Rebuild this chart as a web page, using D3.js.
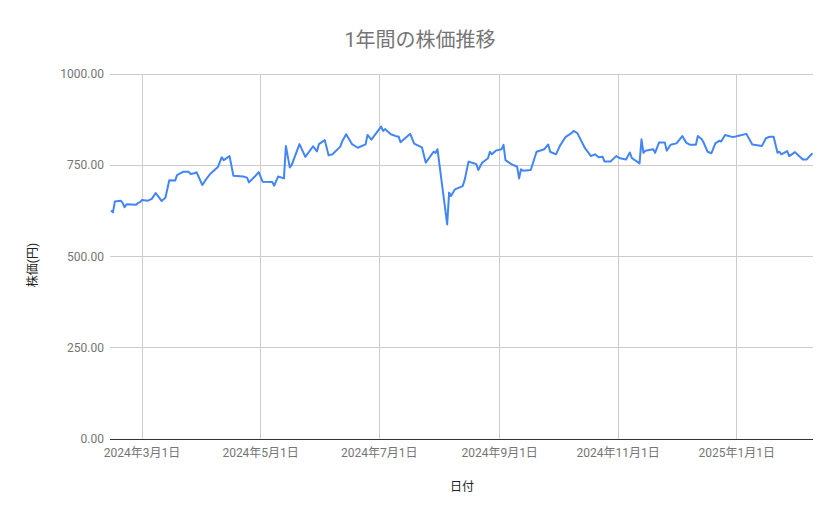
<!DOCTYPE html>
<html>
<head>
<meta charset="utf-8">
<script src="https://cdn.jsdelivr.net/npm/d3@7"></script>
<style>
  html, body { margin: 0; padding: 0; background: #fff; }
  svg text { font-family: Roboto, "Noto Sans CJK JP", sans-serif; }
</style>
</head>
<body>
<div id="chart"></div>
<script>
// 1年間の株価推移 (line chart, Google Charts look)

const dates = [
  "2024-02-14","2024-02-15","2024-02-16","2024-02-19","2024-02-20","2024-02-21","2024-02-22","2024-02-27","2024-02-28","2024-02-29",
  "2024-03-01","2024-03-04","2024-03-06","2024-03-08","2024-03-10","2024-03-11","2024-03-13","2024-03-15","2024-03-18","2024-03-19",
  "2024-03-22","2024-03-25","2024-03-26","2024-03-28","2024-03-29","2024-04-01","2024-04-03","2024-04-05","2024-04-09","2024-04-11",
  "2024-04-12","2024-04-15","2024-04-17","2024-04-22","2024-04-24","2024-04-25","2024-04-28","2024-04-30","2024-05-02","2024-05-07",
  "2024-05-08","2024-05-10","2024-05-13","2024-05-14","2024-05-16","2024-05-17","2024-05-21","2024-05-24","2024-05-28","2024-05-30",
  "2024-05-31","2024-06-03","2024-06-05","2024-06-07","2024-06-11","2024-06-12","2024-06-14","2024-06-17","2024-06-20","2024-06-24",
  "2024-06-25","2024-06-27","2024-07-02","2024-07-03","2024-07-04","2024-07-07","2024-07-10","2024-07-11","2024-07-12","2024-07-17",
  "2024-07-19","2024-07-23","2024-07-25","2024-07-29","2024-07-30","2024-07-31","2024-08-05","2024-08-06","2024-08-07","2024-08-09",
  "2024-08-13","2024-08-14","2024-08-16","2024-08-19","2024-08-20","2024-08-21","2024-08-23","2024-08-26","2024-08-27","2024-08-28",
  "2024-08-30","2024-09-02","2024-09-03","2024-09-04","2024-09-07","2024-09-10","2024-09-11","2024-09-12","2024-09-13","2024-09-17",
  "2024-09-20","2024-09-24","2024-09-26","2024-09-27","2024-09-30","2024-10-02","2024-10-05","2024-10-08","2024-10-09","2024-10-11",
  "2024-10-15","2024-10-18","2024-10-20","2024-10-22","2024-10-24","2024-10-25","2024-10-28","2024-10-31","2024-11-02","2024-11-05",
  "2024-11-07","2024-11-08","2024-11-12","2024-11-13","2024-11-14","2024-11-15","2024-11-19","2024-11-20","2024-11-22","2024-11-25",
  "2024-11-26","2024-11-28","2024-12-01","2024-12-04","2024-12-06","2024-12-08","2024-12-11","2024-12-12","2024-12-14","2024-12-15",
  "2024-12-17","2024-12-19","2024-12-21","2024-12-23","2024-12-24","2024-12-26","2024-12-30","2025-01-02","2025-01-06","2025-01-09",
  "2025-01-14","2025-01-16","2025-01-18","2025-01-20","2025-01-22","2025-01-23","2025-01-24","2025-01-27","2025-01-28","2025-01-31",
  "2025-02-04","2025-02-06","2025-02-09"
];

const prices = [
  626,621,651,653,647,635,643,642,647,649,
  655,653,658,674,660,652,661,709,708,723,
  732,732,726,728,731,696,712,726,745,772,
  764,775,721,719,716,703,719,731,705,704,
  694,719,714,803,744,751,808,773,802,788,
  808,819,777,780,801,816,835,808,798,807,
  833,820,856,844,849,835,829,829,813,836,
  809,799,757,787,784,794,588,675,666,684,
  693,710,760,755,753,737,757,769,787,780,
  790,794,806,764,753,746,714,739,735,737,
  787,794,807,787,780,803,828,838,844,838,
  796,775,780,772,773,760,760,775,769,766,
  785,770,755,821,784,790,794,784,812,812,
  790,806,810,830,812,806,806,830,821,812,
  787,783,810,817,815,833,827,831,836,807,
  803,824,828,828,784,787,780,789,775,786,
  766,766,783
];

const xTickDates = ["2024-03-01","2024-05-01","2024-07-01","2024-09-01","2024-11-01","2025-01-01"];
const yTicks = [0, 250, 500, 750, 1000];

const chartTitle = "1年間の株価推移";
const xTitle = "日付";
const yTitle = "株価(円)";

const W = 839, H = 519;
const plotL = 110, plotR = 813, plotT = 74, plotB = 439;

const parse = d3.timeParse("%Y-%m-%d");
const data = dates.map((d, i) => ({ date: parse(d), value: prices[i] }));

const x = d3.scaleTime()
  .domain(d3.extent(data, d => d.date))
  .range([plotL + 1, plotR - 0.5]);

const y = d3.scaleLinear()
  .domain([0, 1000])
  .range([plotB, plotT]);

const svg = d3.select("#chart").append("svg")
  .attr("width", W)
  .attr("height", H);

// title
svg.append("text")
  .attr("x", 420).attr("y", 47)
  .attr("text-anchor", "middle")
  .attr("fill", "#757575")
  .style("font-size", "20px")
  .text(chartTitle);

// horizontal gridlines + y labels
const yg = svg.append("g");
yg.selectAll("line")
  .data(yTicks)
  .enter().append("line")
  .attr("x1", plotL).attr("x2", plotR)
  .attr("y1", d => y(d)).attr("y2", d => y(d))
  .attr("stroke", "#cccccc")
  .attr("stroke-width", 1)
  .attr("shape-rendering", "crispEdges");

yg.selectAll("text")
  .data(yTicks)
  .enter().append("text")
  .attr("x", plotL - 6)
  .attr("y", d => y(d))
  .attr("dy", "0.35em")
  .attr("text-anchor", "end")
  .attr("fill", "#757575")
  .style("font-size", "12px")
  .text(d => d3.format(".2f")(d));

// vertical gridlines + x labels
const xg = svg.append("g");
const xTicks = xTickDates.map(parse);
xg.selectAll("line")
  .data(xTicks)
  .enter().append("line")
  .attr("x1", d => x(d)).attr("x2", d => x(d))
  .attr("y1", plotT).attr("y2", plotB)
  .attr("stroke", "#cccccc")
  .attr("stroke-width", 1)
  .attr("shape-rendering", "crispEdges");

xg.selectAll("text")
  .data(xTicks)
  .enter().append("text")
  .attr("x", d => x(d))
  .attr("y", plotB + 14)
  .attr("dy", "0.35em")
  .attr("text-anchor", "middle")
  .attr("fill", "#757575")
  .style("font-size", "12px")
  .text(d => `${d.getFullYear()}年${d.getMonth() + 1}月${d.getDate()}日`);

// baseline
svg.append("line")
  .attr("x1", plotL).attr("x2", plotR)
  .attr("y1", y(0)).attr("y2", y(0))
  .attr("stroke", "#333333")
  .attr("stroke-width", 1)
  .attr("shape-rendering", "crispEdges");

// the line
const line = d3.line()
  .x(d => x(d.date))
  .y(d => y(d.value));

svg.append("path")
  .datum(data)
  .attr("d", line)
  .attr("fill", "none")
  .attr("stroke", "#4285f4")
  .attr("stroke-width", 2)
  .attr("stroke-linejoin", "round");

// axis titles
svg.append("text")
  .attr("x", 462).attr("y", 491)
  .attr("text-anchor", "middle")
  .attr("fill", "#222")
  .style("font-size", "12px")
  .text(xTitle);

svg.append("text")
  .attr("transform", `translate(37, 265) rotate(-90)`)
  .attr("text-anchor", "middle")
  .attr("fill", "#222")
  .style("font-size", "12px")
  .text(yTitle);
</script>
</body>
</html>
